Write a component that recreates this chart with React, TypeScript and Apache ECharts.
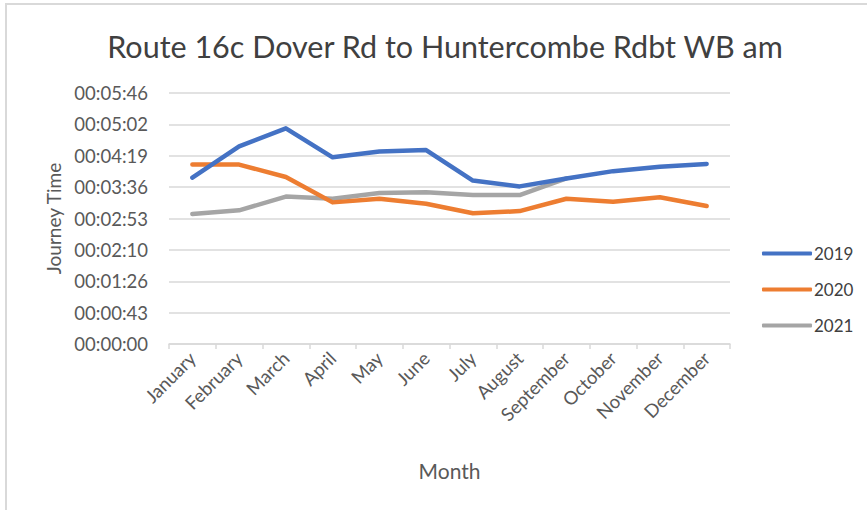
import React, { useEffect, useRef } from "react";
import * as echarts from "echarts";

const months = ["January", "February", "March", "April", "May", "June", "July", "August", "September", "October", "November", "December"];
// journey times in seconds
const s2019 = [229, 272, 297, 257, 265, 267, 225, 217, 228, 238, 244, 248];
const s2020 = [247, 247, 230, 195, 200, 193, 180, 183, 200, 196, 202, 190];
const s2021: (number | null)[] = [179, 184, 203, 200, 208, 209, 205, 205, 228, null, null, null];
const seriesNames = ["2019", "2020", "2021"];
const colors = ["#4472C4", "#ED7D31", "#A5A5A5"];
const yMax = 345.6;
const yInterval = 43.2;

function fmt(v: number) {
  const s = Math.round(v);
  const h = Math.floor(s / 3600);
  const m = Math.floor((s % 3600) / 60);
  const sec = s % 60;
  const p = (n: number) => String(n).padStart(2, "0");
  return `${p(h)}:${p(m)}:${p(sec)}`;
}

export default function App() {
  const ref = useRef<HTMLDivElement>(null);
  useEffect(() => {
    if (!ref.current) return;
    const chart = echarts.init(ref.current, null, { renderer: "svg" });
    const font = "Lato";
    const data = [s2019, s2020, s2021];
    chart.setOption({
      animation: false,
      backgroundColor: "#ffffff",
      textStyle: { fontFamily: font },
      title: {
        text: "Route 16c Dover Rd to Huntercombe Rdbt WB am",
        left: 440,
        top: 25,
        textAlign: "center",
        textStyle: { fontFamily: font, fontSize: 30.5, fontWeight: "normal", color: "#404040" },
      },
      graphic: [
        {
          type: "rect",
          shape: { x: 6, y: 4, width: 900, height: 600 },
          style: { fill: "none", stroke: "#d9d9d9", lineWidth: 2 },
          silent: true,
        },
      ],
      legend: {
        orient: "vertical",
        left: 757,
        top: 240,
        itemWidth: 50,
        itemHeight: 4,
        itemGap: 19,
        icon: "roundRect",
        data: seriesNames,
        textStyle: { fontFamily: font, fontSize: 17, color: "#404040", padding: [0, 0, 0, -3] },
      },
      grid: { left: 169, right: 137, top: 93, bottom: 166, containLabel: false },
      xAxis: {
        type: "category",
        data: months,
        boundaryGap: true,
        name: "Month",
        nameLocation: "middle",
        nameGap: 116,
        nameTextStyle: { fontFamily: font, fontSize: 21, color: "#595959" },
        axisLine: { lineStyle: { color: "#d9d9d9", width: 1.5 } },
        axisTick: { show: true, length: 5, lineStyle: { color: "#d9d9d9", width: 1.5 }, alignWithLabel: false },
        axisLabel: { rotate: 45, interval: 0, margin: 11, fontFamily: font, fontSize: 18.5, color: "#595959" },
      },
      yAxis: {
        type: "value",
        min: 0,
        max: yMax,
        interval: yInterval,
        name: "Journey Time",
        nameLocation: "middle",
        nameGap: 104,
        nameTextStyle: { fontFamily: font, fontSize: 19, color: "#595959" },
        axisLine: { show: false },
        axisTick: { show: false },
        splitLine: { lineStyle: { color: "#d9d9d9", width: 1.5 } },
        axisLabel: { formatter: (v: number) => fmt(v), margin: 21, fontFamily: font, fontSize: 18.5, color: "#595959" },
      },
      series: seriesNames.map((n, i) => ({
        name: n,
        type: "line",
        data: data[i],
        symbol: "none",
        connectNulls: false,
        lineStyle: { color: colors[i], width: 4.5, cap: "round", join: "round" },
        itemStyle: { color: colors[i] },
        z: 3 - i,
      })),
    });
    return () => chart.dispose();
  }, []);
  return <div ref={ref} style={{ position: "fixed", left: 0, top: 0, width: 867, height: 510 }} />;
}
